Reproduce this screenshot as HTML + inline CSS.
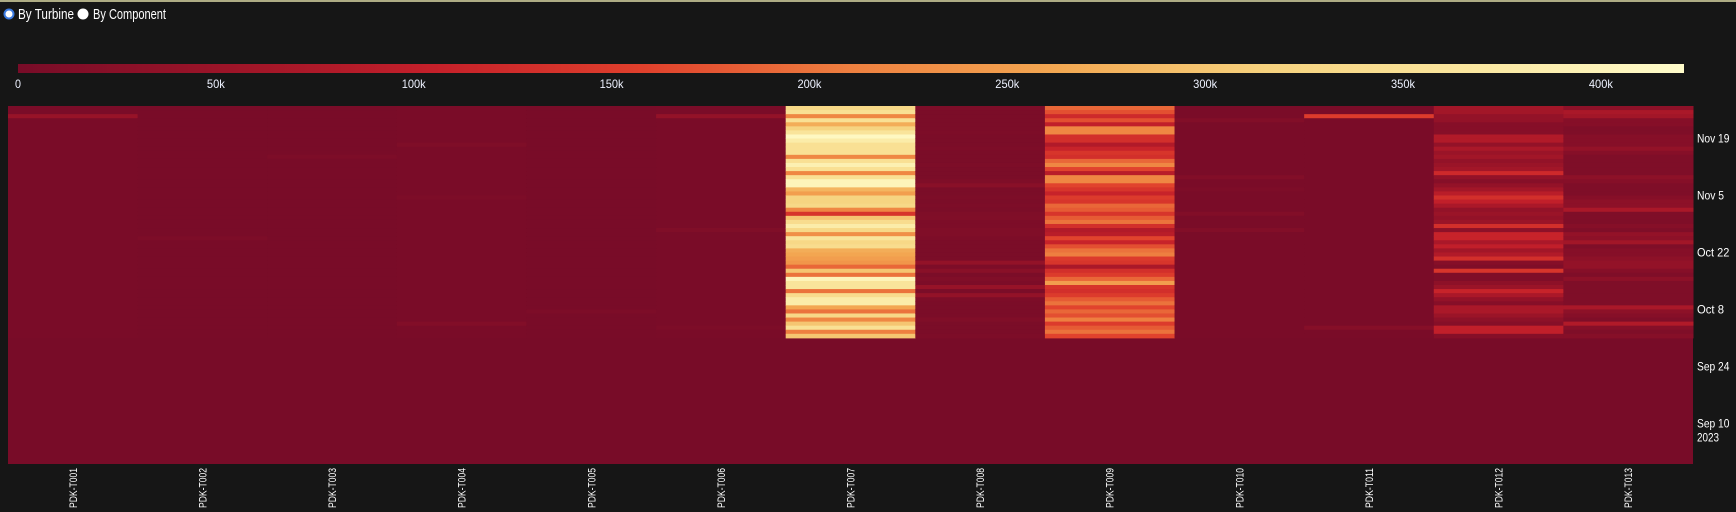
<!DOCTYPE html>
<html><head><meta charset="utf-8"><style>
html,body{margin:0;padding:0;background:#161616;width:1736px;height:512px;overflow:hidden}
svg{display:block}
text{font-family:"Liberation Sans",sans-serif}
</style></head><body>
<svg id="chart" width="1736" height="512" xmlns="http://www.w3.org/2000/svg">
<rect x="0" y="0" width="1736" height="512" fill="#161616"/>
<rect x="0" y="0" width="1736" height="2" fill="#aeac84"/>
<g>
<circle cx="9" cy="14" r="4.5" fill="#fff" stroke="#3b7ae0" stroke-width="2"/>
<text x="18" y="19" font-size="15" fill="#fff" textLength="56" lengthAdjust="spacingAndGlyphs">By Turbine</text>
<circle cx="83" cy="14" r="5.5" fill="#fff"/>
<text x="93" y="19" font-size="15" fill="#fff" textLength="73" lengthAdjust="spacingAndGlyphs">By Component</text>
</g>
<defs><linearGradient id="cg" x1="0" x2="1" y1="0" y2="0">
<stop offset="0" stop-color="#780c28"/><stop offset="0.125" stop-color="#9c1428"/><stop offset="0.25" stop-color="#c5202a"/><stop offset="0.375" stop-color="#e0402c"/><stop offset="0.5" stop-color="#ee8040"/><stop offset="0.625" stop-color="#f3a852"/><stop offset="0.75" stop-color="#f6d27e"/><stop offset="0.875" stop-color="#fae7a0"/><stop offset="1" stop-color="#fffccb"/>
</linearGradient></defs>
<rect x="18" y="64" width="1666" height="9" fill="url(#cg)"/>
<g id="cbticks"></g>
<g id="cells"></g>
<g id="ylab"></g>
<g id="xlab"></g>
</svg>
<script>
const turbines = ["PDK-T001","PDK-T002","PDK-T003","PDK-T004","PDK-T005","PDK-T006","PDK-T007","PDK-T008","PDK-T009","PDK-T010","PDK-T011","PDK-T012","PDK-T013"];
const colorTicks = [0,50000,100000,150000,200000,250000,300000,350000,400000];
const colorTickLabels = ["0","50k","100k","150k","200k","250k","300k","350k","400k"];
const dateTickLabels = ["Nov 19","Nov 5","Oct 22","Oct 8","Sep 24","Sep 10"];
const dateTickDaysBeforeTop = [8,22,36,50,64,78];
const totalDays = 88;
// values in thousands, row 0 = most recent day
const vT001 = [3,3,45,3,3,3,3,3,3,3,3,3,3,3,3,3,3,3,3,3,3,3,3,3,3,3,3,3,3,3,3,3,3,3,3,3,3,3,3,3,3,3,3,3,3,3,3,3,3,3,3,3,3,3,3,3,3];
const vT002 = [2,2,2,2,2,2,2,2,2,2,2,2,2,2,2,2,2,2,2,2,2,2,2,2,2,2,2,2,2,2,2,2,8,2,2,2,2,2,2,2,2,2,2,2,2,2,2,2,2,2,2,2,2,2,2,2,2];
const vT003 = [2,2,2,2,2,2,2,2,2,2,2,2,8,2,2,2,2,2,2,2,2,2,2,2,2,2,2,2,2,2,2,2,2,2,2,2,2,2,2,2,2,2,2,2,2,2,2,2,2,2,2,2,2,2,2,2,2];
const vT004 = [3,3,3,3,3,3,3,3,3,10,3,3,3,3,3,3,3,3,3,3,3,3,8,3,3,3,3,3,3,3,3,3,3,3,3,3,3,3,3,3,3,3,3,3,3,3,3,3,3,3,3,3,3,15,3,3,3];
const vT005 = [2,2,2,2,2,2,2,2,2,2,2,2,2,2,2,2,2,2,2,2,2,2,2,2,2,2,2,2,2,2,2,2,2,2,2,2,2,2,2,2,2,2,2,2,2,2,2,2,2,2,8,2,2,2,2,2,2];
const vT006 = [3,3,40,3,3,3,3,3,3,3,3,3,3,3,3,3,3,3,3,3,3,3,3,3,3,3,3,3,3,3,12,3,3,3,3,3,3,3,3,3,3,3,3,3,3,3,3,3,3,3,3,3,3,3,8,3,3];
const vT007 = [330,350,220,350,270,320,360,410,380,350,350,350,220,350,390,350,220,350,400,400,280,250,320,320,330,220,140,300,340,380,330,230,360,330,340,270,260,250,240,190,300,200,400,360,360,200,340,380,380,260,200,330,220,300,350,210,300];
const vT008 = [8,5,5,5,5,5,8,5,5,5,8,5,5,5,8,5,5,5,10,25,5,5,8,5,8,5,10,12,8,8,12,12,8,5,5,5,5,5,40,8,25,5,12,8,45,5,40,8,5,5,5,5,12,5,5,5,8];
const vT009 = [190,170,120,170,100,220,220,130,130,80,110,140,130,190,220,160,90,220,220,160,140,110,150,140,190,180,140,180,200,130,80,90,160,110,170,200,210,150,140,70,130,150,190,250,140,130,150,180,200,160,190,170,210,150,180,200,160];
const vT010 = [3,3,3,15,3,3,3,3,3,3,3,3,3,3,3,3,3,15,3,3,8,3,3,3,3,3,15,3,3,3,15,3,3,3,3,3,3,3,3,3,3,3,3,3,3,3,3,3,3,3,3,3,3,3,3,3,3];
const vT011 = [3,3,150,3,3,3,3,3,3,3,3,3,3,3,3,3,3,3,3,3,3,3,3,3,3,3,3,3,3,3,3,3,3,3,3,3,3,3,3,3,3,3,3,3,3,3,3,3,3,3,3,3,3,3,20,3,3];
const vT012 = [60,60,40,40,20,20,20,80,80,40,70,50,60,40,50,60,120,40,20,40,60,90,130,100,70,40,50,40,50,130,30,110,110,70,100,60,80,130,20,10,140,10,10,30,50,110,70,40,20,70,70,50,30,20,100,100,20];
const vT013 = [30,70,60,20,20,10,10,20,20,20,40,20,10,10,10,10,10,30,20,10,10,10,20,30,30,70,10,10,10,20,10,40,30,60,10,20,20,30,40,40,20,10,30,10,10,10,10,10,10,70,30,20,10,80,20,10,20];
const series = [vT001,vT002,vT003,vT004,vT005,vT006,vT007,vT008,vT009,vT010,vT011,vT012,vT013];

const NS="http://www.w3.org/2000/svg";
const X0=8,X1=1693,Y0=106,Y1=464,CB0=18,CB1=1684,VMAX=421000;
const colW=(X1-X0)/turbines.length, rowH=(Y1-Y0)/totalDays;
const xCol=i=>X0+i*colW;
const yRow=d=>Y0+d*rowH;
const cbX=v=>CB0+(v/VMAX)*(CB1-CB0);
const stops=[[0,[120,12,40]],[0.125,[156,20,40]],[0.25,[197,32,42]],[0.375,[224,64,44]],[0.5,[238,128,64]],[0.625,[243,168,82]],[0.75,[246,210,126]],[0.875,[250,231,160]],[1,[255,252,203]]];
function color(v){let t=Math.max(0,Math.min(1,v/VMAX));for(let i=1;i<stops.length;i++){if(t<=stops[i][0]){const a=stops[i-1],b=stops[i];const f=(t-a[0])/(b[0]-a[0]);const c=a[1].map((x,k)=>Math.round(x+(b[1][k]-x)*f));return `rgb(${c})`;}}return "rgb(255,252,203)";}
function mk(tag,attrs,parent){const e=document.createElementNS(NS,tag);for(const k in attrs)e.setAttribute(k,attrs[k]);parent.appendChild(e);return e;}

const cb=document.getElementById('cbticks');
colorTicks.forEach((v,i)=>{const s=colorTickLabels[i];const t=mk('text',{x:cbX(v),y:88,'font-size':12,fill:'#eef2ff','text-anchor':'middle',textLength:s.length*6,lengthAdjust:'spacingAndGlyphs'},cb);


t.textContent=s;});

const cells=document.getElementById('cells');
const bg=mk('rect',{x:X0,y:Y0,width:X1-X0,height:Y1-Y0,fill:color(0)},cells);


series.forEach((vals,c)=>{vals.forEach((v,d)=>{const r=mk('rect',{x:xCol(c),y:yRow(d),width:colW+0.5,height:rowH+0.5,fill:color(v*1000)},cells);

});});

const yl=document.getElementById('ylab');
dateTickLabels.forEach((s,i)=>{const t=mk('text',{x:X1+4,y:yRow(dateTickDaysBeforeTop[i])+4,'font-size':12,fill:'#fff',textLength:s.length*5.4,lengthAdjust:'spacingAndGlyphs'},yl);


t.textContent=s;});
const yr=mk('text',{x:X1+4,y:yRow(dateTickDaysBeforeTop[5])+18,'font-size':12,fill:'#fff',textLength:22,lengthAdjust:'spacingAndGlyphs'},yl);


yr.textContent="2023";

const xl=document.getElementById('xlab');
turbines.forEach((s,i)=>{const cx=xCol(i)+colW/2;const t=mk('text',{x:0,y:0,'font-size':11,fill:'#fff','text-anchor':'end',textLength:40,lengthAdjust:'spacingAndGlyphs',transform:`translate(${cx+4},468) rotate(-90)`},xl);


t.textContent=s;});
</script>
</body></html>
